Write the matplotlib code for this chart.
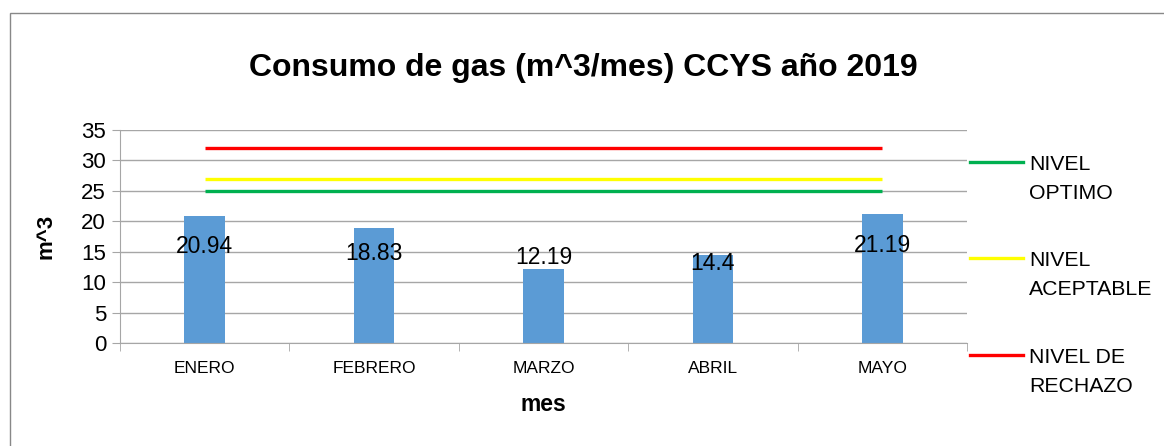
import numpy as np
import matplotlib.pyplot as plt
from matplotlib.lines import Line2D
from matplotlib.patches import Rectangle

plt.rcParams['font.family'] = ['Liberation Sans', 'DejaVu Sans']

# datos
meses = ['ENERO', 'FEBRERO', 'MARZO', 'ABRIL', 'MAYO']
consumo = [20.94, 18.83, 12.19, 14.4, 21.19]
nivel_optimo = [25, 25, 25, 25, 25]
nivel_aceptable = [27, 27, 27, 27, 27]
nivel_rechazo = [32, 32, 32, 32, 32]
etiquetas = ['20.94', '18.83', '12.19', '14.4', '21.19']
niveles = ['NIVEL\nOPTIMO', 'NIVEL\nACEPTABLE', 'NIVEL DE\nRECHAZO']

W, H = 1164, 446
fig = plt.figure(figsize=(W / 100, H / 100), dpi=100)
ax = fig.add_axes([120 / W, 1 - 343 / H, 847 / W, 213 / H])

x = np.arange(len(meses))
ax.bar(x, consumo, width=0.24, color='#5B9BD5', zorder=2)

colores = ['#00B050', '#FFFF00', '#FF0000']
for serie, c in zip([nivel_optimo, nivel_aceptable, nivel_rechazo], colores):
    ax.plot(x, serie, color=c, lw=2.4, zorder=3, solid_capstyle='butt')

# etiquetas de datos (desplazamiento vertical en puntos, como en excel)
desp = [-22, -18, 8, -6, -23]
for xi, v, t, d in zip(x, consumo, etiquetas, desp):
    ax.annotate(t, (xi, v), xytext=(0, d), textcoords='offset points',
                ha='center', va='center', fontsize=16.5, zorder=4)

ax.set_xlim(-0.5, len(meses) - 0.5)
ax.set_ylim(0, 35)
ax.set_yticks(np.arange(0, 36, 5))
ax.set_xticks(x)
ax.set_xticklabels(meses, fontsize=12.5)
ax.set_xticks(np.arange(-0.5, len(meses)), minor=True)
ax.tick_params(axis='x', which='major', length=0, pad=13)
ax.tick_params(axis='x', which='minor', length=6, color='#A6A6A6')
ax.tick_params(axis='y', length=6, color='#A6A6A6', labelsize=16, pad=4)
ax.yaxis.grid(True, color='#A6A6A6', lw=1)
ax.set_axisbelow(True)
for s in ['top', 'right']:
    ax.spines[s].set_visible(False)
ax.spines['left'].set_color('#A6A6A6')
ax.spines['bottom'].set_color('#A6A6A6')

ax.set_xlabel('mes', fontsize=16.5, fontweight='bold', labelpad=12)
ax.set_ylabel('m^3', fontsize=16, fontweight='bold', labelpad=18)

fig.text(583 / W, 1 - 68 / H, 'Consumo de gas (m^3/mes) CCYS año 2019',
         ha='center', va='center', fontsize=23, fontweight='bold')

# leyenda
ys = [162, 258, 355]
for yy, c, lab in zip(ys, colores, niveles):
    fig.add_artist(Line2D([970 / W, 1023 / W], [1 - yy / H, 1 - yy / H],
                          color=c, lw=2.4))
    fig.text(1029 / W, 1 - (yy - 7) / H, lab, ha='left', va='top',
             fontsize=15.3, linespacing=1.65)

# borde
fig.add_artist(Rectangle((10 / W, -0.1), 1.2, 1 - 13 / H + 0.1,
                         transform=fig.transFigure, fill=False,
                         edgecolor='#888888', lw=1))

fig.savefig('out.png', dpi=100)
